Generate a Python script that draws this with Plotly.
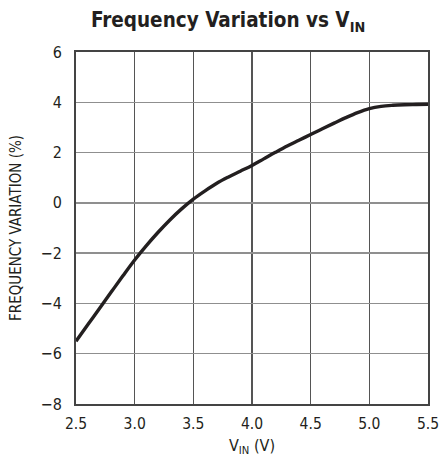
import plotly.graph_objects as go

vin = [2.5, 2.6, 2.7, 2.8, 2.9, 3.0, 3.1, 3.2, 3.3, 3.4, 3.5, 3.6, 3.7, 3.8, 3.9,
       4.0, 4.1, 4.2, 4.3, 4.4, 4.5, 4.6, 4.7, 4.8, 4.9, 5.0, 5.1, 5.2, 5.3, 5.4, 5.5]
freq_var = [-5.5, -4.85, -4.2, -3.55, -2.9, -2.27, -1.7, -1.17, -0.68, -0.24, 0.15,
            0.48, 0.78, 1.03, 1.26, 1.49, 1.75, 2.01, 2.26, 2.49, 2.72, 2.95, 3.17,
            3.39, 3.59, 3.75, 3.84, 3.88, 3.9, 3.91, 3.92]

x_ticks = [2.5, 3.0, 3.5, 4.0, 4.5, 5.0, 5.5]
x_tick_labels = ["2.5", "3.0", "3.5", "4.0", "4.5", "5.0", "5.5"]
y_ticks = [-8, -6, -4, -2, 0, 2, 4, 6]
y_tick_labels = ["\u22128", "\u22126", "\u22124", "\u22122", "0", "2", "4", "6"]

font_fam = "DejaVu Sans Condensed, Liberation Sans Narrow, sans-serif"
txt = "#231f20"

fig = go.Figure()
fig.add_trace(go.Scatter(x=vin, y=freq_var, mode="lines",
                         line=dict(color="#231f20", width=3.4, shape="spline", smoothing=1.0),
                         showlegend=False, hoverinfo="skip"))

fig.update_layout(
    width=442, height=466, autosize=False,
    margin=dict(l=76, r=14, t=52, b=62),
    paper_bgcolor="white", plot_bgcolor="white",
    title=dict(text="<b>Frequency Variation vs V<sub>IN</sub></b>", x=0.516, xanchor="center",
               y=0.957, yanchor="middle",
               font=dict(family=font_fam, size=20.5, color=txt)),
    xaxis=dict(range=[2.5, 5.5], tickvals=x_ticks, ticktext=x_tick_labels,
               automargin=False,
               showgrid=True, gridcolor="#555555", gridwidth=1.3,
               showline=True, linecolor="#444444", linewidth=2, mirror=True,
               zeroline=False, ticks="", ticklen=0, ticklabelstandoff=4,
               tickfont=dict(family=font_fam, size=15.5, color=txt),
               title=dict(text="V<sub>IN</sub> (V)", standoff=8,
                          font=dict(family=font_fam, size=16, color=txt))),
    yaxis=dict(range=[-8, 6], tickvals=y_ticks, ticktext=y_tick_labels,
               automargin=False,
               showgrid=True, gridcolor="#8f8f8f", gridwidth=1.3,
               showline=True, linecolor="#444444", linewidth=2, mirror=True,
               zeroline=False, ticks="", ticklen=0, ticklabelstandoff=9,
               tickfont=dict(family=font_fam, size=16, color=txt),
               title=dict(text="FREQUENCY VARIATION (%)", standoff=15,
                          font=dict(family=font_fam, size=15, color=txt))),
)

fig.write_html("out.html",
               config={"responsive": False, "displayModeBar": False, "staticPlot": True},
               post_script="document.documentElement.style.overflow='hidden';document.body.style.margin='0';document.body.style.overflow='hidden';")
